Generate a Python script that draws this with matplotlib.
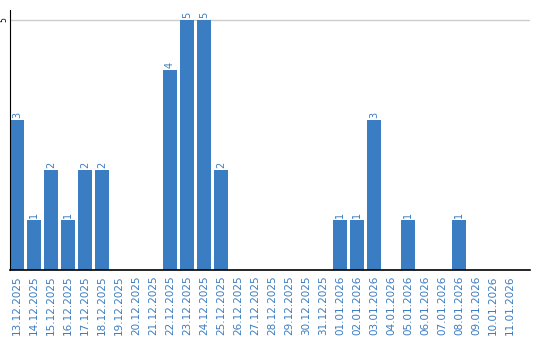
import matplotlib
matplotlib.use("Agg")
import matplotlib.pyplot as plt
import numpy as np

dates = ["13.12.2025", "14.12.2025", "15.12.2025", "16.12.2025", "17.12.2025",
         "18.12.2025", "19.12.2025", "20.12.2025", "21.12.2025", "22.12.2025",
         "23.12.2025", "24.12.2025", "25.12.2025", "26.12.2025", "27.12.2025",
         "28.12.2025", "29.12.2025", "30.12.2025", "31.12.2025", "01.01.2026",
         "02.01.2026", "03.01.2026", "04.01.2026", "05.01.2026", "06.01.2026",
         "07.01.2026", "08.01.2026", "09.01.2026", "10.01.2026", "11.01.2026"]
counts = [3, 1, 2, 1, 2, 2, 0, 0, 0, 4, 5, 5, 2, 0, 0, 0, 0, 0, 0, 1,
          1, 3, 0, 1, 0, 0, 1, 0, 0, 0]

bar_color = '#3b7dc2'
text_color = '#3a7cc0'

fig = plt.figure(figsize=(5.4, 3.4), dpi=100)
ax = fig.add_axes([10 / 540, 70 / 340, 520 / 540, 260 / 340])

x = np.arange(len(dates))
ax.bar(x, counts, width=0.82, color=bar_color, zorder=2)

# labels above non-zero bars
for xi, v in zip(x, counts):
    if v > 0:
        ax.text(xi, v + 0.04, str(v), rotation=90, ha='center', va='bottom',
                fontsize=7, color=text_color)

ax.set_xlim(-0.41, 30.18)
ax.set_ylim(0, 5.2)
ax.set_xticks(x)
ax.set_xticklabels(dates, rotation=90, fontsize=7.5, color=text_color)
ax.set_yticks([5])
ax.set_yticklabels(['5'], rotation=90, fontsize=5.5, va='center')
ax.tick_params(axis='x', length=0, pad=4)
ax.tick_params(axis='y', length=0, pad=1.5)
ax.yaxis.grid(True, color='#cccccc', linewidth=1, zorder=0)

for s in ['top', 'right']:
    ax.spines[s].set_visible(False)
ax.spines['left'].set_color('black')
ax.spines['bottom'].set_color('black')
ax.spines['bottom'].set_linewidth(1.2)

fig.savefig('out.png', dpi=100)
